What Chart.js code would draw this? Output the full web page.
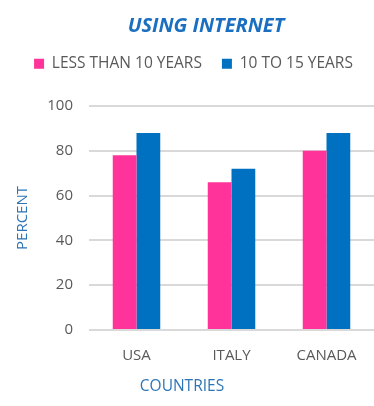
<!DOCTYPE html>
<html>
<head>
<meta charset="utf-8">
<script src="https://cdn.jsdelivr.net/npm/chart.js@4"></script>
<style>
  html, body { margin: 0; padding: 0; background: #ffffff; }
  #wrap { width: 374px; height: 406px; }
</style>
</head>
<body>
<div id="wrap"><canvas id="c" width="374" height="406"></canvas></div>
<script>
const categories = ['USA', 'ITALY', 'CANADA'];
const seriesNames = ['LESS THAN 10 YEARS', '10 TO 15 YEARS'];
const lessThan10 = [78, 66, 80];
const tenTo15 = [88, 72, 88];
const yTickLabels = [0, 20, 40, 60, 80, 100];
const chartTitle = 'USING INTERNET';
const xTitle = 'COUNTRIES';
const yTitle = 'PERCENT';

const FONT = "'Open Sans', 'DejaVu Sans', sans-serif";
const GRAY = '#595959';
const AXIS_BLUE = '#2E75B6';

const extraText = {
  id: 'extraText',
  afterDraw(chart) {
    const ctx = chart.ctx;
    ctx.save();
    ctx.textAlign = 'center';
    ctx.textBaseline = 'middle';
    ctx.fillStyle = '#1A6FC0';
    ctx.font = 'italic bold 20px ' + FONT;
    ctx.fillText(chartTitle, 206, 26);
    ctx.fillStyle = AXIS_BLUE;
    ctx.font = '15.5px ' + FONT;
    ctx.fillText(xTitle, 182, 387);
    ctx.restore();
  }
};

new Chart(document.getElementById('c'), {
  type: 'bar',
  data: {
    labels: categories,
    datasets: [
      { label: seriesNames[0], data: lessThan10, backgroundColor: '#FF3399' },
      { label: seriesNames[1], data: tenTo15, backgroundColor: '#0070C0' }
    ]
  },
  options: {
    responsive: false,
    animation: false,
    devicePixelRatio: 1,
    layout: { padding: { top: 36, left: 10, right: -3, bottom: 0 } },
    datasets: { bar: { categoryPercentage: 0.5, barPercentage: 1.0 } },
    plugins: {
      title: { display: false },
      subtitle: {
        display: true, text: '', position: 'top', weight: 500,
        font: { size: 10, lineHeight: 1 }, padding: { top: 14.5, bottom: 0 }
      },
      tooltip: { enabled: false },
      legend: {
        position: 'top',
        labels: {
          boxWidth: 10, boxHeight: 10, padding: 20,
          color: GRAY,
          font: { family: FONT, size: 15.5 }
        }
      }
    },
    scales: {
      x: {
        grid: { display: false },
        border: { display: false },
        ticks: { color: GRAY, padding: 9, font: { family: FONT, size: 15 } },
        afterFit(scale) { scale.height = 76; }
      },
      y: {
        min: 0, max: 100,
        border: { display: false },
        grid: {
          drawTicks: false,
          color: (c) => (c.tick && yTickLabels.includes(c.tick.value)) ? '#D9D9D9' : '#EDEDED',
          lineWidth: (c) => (c.tick && yTickLabels.includes(c.tick.value)) ? 2 : 1
        },
        ticks: {
          stepSize: 4, autoSkip: false, padding: 16,
          color: GRAY, font: { family: FONT, size: 15 },
          callback: (v) => yTickLabels.includes(v) ? String(v) : null
        },
        title: {
          display: true, text: yTitle, color: AXIS_BLUE,
          font: { family: FONT, size: 15 }, padding: { top: 4, bottom: 0 }
        },
        afterFit(scale) { scale.width = 79; }
      }
    }
  },
  plugins: [extraText]
});
</script>
</body>
</html>
